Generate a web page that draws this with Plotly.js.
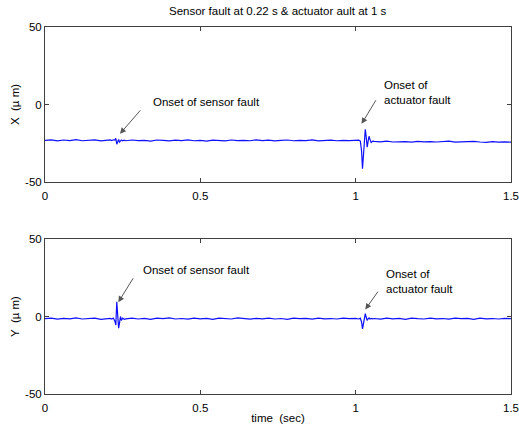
<!DOCTYPE html>
<html><head><meta charset="utf-8">
<script src="https://cdn.plot.ly/plotly-3.0.1.min.js"></script>
<style>html,body{margin:0;padding:0;background:#fff}#chart{width:519px;height:424px}</style>
</head><body><div id="chart"></div>
<script>
// time (sec)
const timeA = [0,0.02,0.04,0.06,0.08,0.10,0.12,0.14,0.16,0.18,0.20];
const timeB = [0.21,0.215,0.22,0.225,0.228,0.231,0.234,0.237,0.24,0.243,0.246,0.25,0.255];
const timeC = [0.26,0.28,0.30,0.32,0.34,0.36,0.38,0.40,0.42,0.44,0.46,0.48,0.50,0.52,0.54,0.56,0.58,0.60,0.62,0.64,0.66,0.68,0.70,0.72,0.74,0.76,0.78,0.80,0.82,0.84,0.86,0.88,0.90,0.92,0.94,0.96,0.98,1.00];
const timeD = [1.005,1.01,1.015,1.019,1.022,1.025,1.028,1.031,1.034,1.037,1.04,1.043,1.046,1.05,1.055];
const timeE = [1.06,1.08,1.10,1.12,1.14,1.16,1.18,1.20,1.22,1.24,1.26,1.28,1.30,1.32,1.34,1.36,1.38,1.40,1.42,1.44,1.46,1.48,1.50];

// X position (µm)
const xA = [-23.2,-22.8,-23.5,-22.9,-23.3,-22.7,-23.4,-23.0,-22.8,-23.5,-23.1];
const xB = [-22.9,-23.3,-22.8,-23.0,-21.8,-25.6,-23.9,-22.6,-24.3,-23.4,-22.9,-23.4,-23.0];
const xC = [-23.4,-22.9,-23.3,-23.1,-23.6,-22.9,-23.2,-23.5,-23.0,-23.3,-22.8,-23.4,-23.1,-23.6,-23.0,-23.2,-23.5,-22.9,-23.3,-23.1,-23.4,-22.8,-23.3,-23.0,-23.5,-23.2,-22.9,-23.4,-23.1,-23.3,-22.8,-23.5,-23.2,-23.0,-23.4,-23.1,-23.3,-23.0];
const xD = [-23.2,-23.0,-23.6,-30.0,-41.5,-33.0,-20.0,-16.0,-21.0,-27.5,-24.0,-20.5,-22.5,-24.5,-23.6];
const xE = [-23.8,-24.1,-23.7,-24.2,-23.9,-24.0,-24.3,-23.8,-24.1,-23.9,-24.2,-24.0,-23.7,-24.3,-24.0,-24.1,-23.8,-24.2,-24.4,-24.0,-24.3,-24.1,-24.3];

// Y position (µm)
const yA = [-1.4,-1.0,-1.7,-1.2,-1.5,-0.9,-1.6,-1.3,-1.1,-1.8,-1.3];
const yB = [-1.2,-1.6,-1.0,-3.0,-5.5,9.5,2.0,-7.5,-4.0,0.0,-2.5,-1.0,-1.8];
const yC = [-1.5,-1.0,-1.6,-1.2,-1.8,-1.1,-1.4,-0.9,-1.6,-1.3,-1.7,-1.0,-1.5,-1.2,-1.8,-1.1,-1.4,-1.6,-0.9,-1.3,-1.7,-1.2,-1.5,-1.0,-1.6,-1.3,-1.8,-1.1,-1.4,-1.2,-1.7,-1.0,-1.5,-1.3,-1.6,-1.1,-1.4,-1.2];
const yD = [-1.2,-1.6,-1.1,-3.5,-8.0,-4.5,0.5,1.8,-0.5,-2.5,-1.5,-0.9,-1.6,-1.2,-1.5];
const yE = [-1.3,-1.7,-1.0,-1.5,-1.2,-1.8,-1.1,-1.4,-1.6,-1.0,-1.5,-1.3,-1.7,-1.1,-1.4,-1.2,-1.8,-1.0,-1.5,-1.3,-1.6,-1.2,-1.4];

const time = [].concat(timeA,timeB,timeC,timeD,timeE);
const xPos = [].concat(xA,xB,xC,xD,xE);
const yPos = [].concat(yA,yB,yC,yD,yE);

const xTicks = [0,0.5,1,1.5];
const xTickText = ['0','0.5','1','1.5'];
const yTicks = [-50,0,50];
const yTickText = ['-50','0','50'];

const FONT = 'Arial, "Liberation Sans", sans-serif';
const AX = '#404040';

const traces = [
  {x: time, y: xPos, type:'scatter', mode:'lines', line:{color:'#1010ff', width:1.2}, xaxis:'x', yaxis:'y', hoverinfo:'none'},
  {x: time, y: yPos, type:'scatter', mode:'lines', line:{color:'#1010ff', width:1.2}, xaxis:'x2', yaxis:'y2', hoverinfo:'none'}
];

function xax(anchor, title){
  const a = {anchor:anchor, range:[0,1.5], tickvals:xTicks, ticktext:xTickText, ticks:'inside', ticklen:4,
    tickcolor:AX, showline:true, linecolor:AX, linewidth:1, mirror:'ticks', showgrid:false, zeroline:false,
    ticklabelstandoff:3,
    tickfont:{size:11.5, color:'#000', family:FONT}};
  if (title) a.title = {text:title, font:{size:11.5, color:'#000', family:FONT}, standoff:3};
  return a;
}
function yax(anchor, domain, title){
  return {anchor:anchor, domain:domain, range:[-50,50], tickvals:yTicks, ticktext:yTickText, ticks:'inside', ticklen:4,
    tickcolor:AX, showline:true, linecolor:AX, linewidth:1, mirror:'ticks', showgrid:false, zeroline:false,
    tickfont:{size:11.5, color:'#000', family:FONT},
    title:{text:title, font:{size:11.5, color:'#000', family:FONT}, standoff:3}};
}

const arrowStyle = {showarrow:true, arrowhead:2, arrowsize:1.2, arrowwidth:1, arrowcolor:'#555', text:''};
const txtFont = {size:11.5, color:'#000', family:FONT};

const annotations = [
  Object.assign({xref:'x', yref:'y', axref:'x', ayref:'y', x:0.2414, y:-18.9, ax:0.311, ay:-2.8}, arrowStyle),
  {xref:'x', yref:'y', x:0.342, y:1.5, xanchor:'left', yanchor:'middle', text:'Onset of sensor fault', showarrow:false, font:txtFont},
  Object.assign({xref:'x', yref:'y', axref:'x', ayref:'y', x:1.019, y:-12.5, ax:1.068, ay:3.7}, arrowStyle),
  {xref:'x', yref:'y', x:1.084, y:7.7, xanchor:'left', yanchor:'middle', align:'left', text:'Onset of<br>actuator fault', showarrow:false, font:txtFont},
  Object.assign({xref:'x2', yref:'y2', axref:'x2', ayref:'y2', x:0.236, y:9.2, ax:0.2865, ay:25.6}, arrowStyle),
  {xref:'x2', yref:'y2', x:0.31, y:29.9, xanchor:'left', yanchor:'middle', text:'Onset of sensor fault', showarrow:false, font:txtFont},
  Object.assign({xref:'x2', yref:'y2', axref:'x2', ayref:'y2', x:1.031, y:4.5, ax:1.075, ay:17}, arrowStyle),
  {xref:'x2', yref:'y2', x:1.091, y:22.3, xanchor:'left', yanchor:'middle', align:'left', text:'Onset of<br>actuator fault', showarrow:false, font:txtFont}
];

const layout = {
  width:519, height:424,
  margin:{l:45, r:8, t:27, b:30},
  paper_bgcolor:'#fff', plot_bgcolor:'#fff',
  showlegend:false,
  font:{family:FONT, size:11.5, color:'#000'},
  title:{text:'Sensor fault at 0.22 s &amp; actuator ault at 1 s', font:{size:11.5, color:'#000', family:FONT}, x:0.535, xanchor:'center', y:0.975, yanchor:'middle'},
  xaxis: xax('y', null),
  yaxis: yax('x', [0.5777,1], 'X  (µ m)'),
  xaxis2: xax('y2', 'time  (sec)'),
  yaxis2: yax('x2', [0,0.4223], 'Y  (µ m)'),
  annotations: annotations
};

Plotly.newPlot('chart', traces, layout, {displayModeBar:false, staticPlot:true});
</script>
</body></html>
